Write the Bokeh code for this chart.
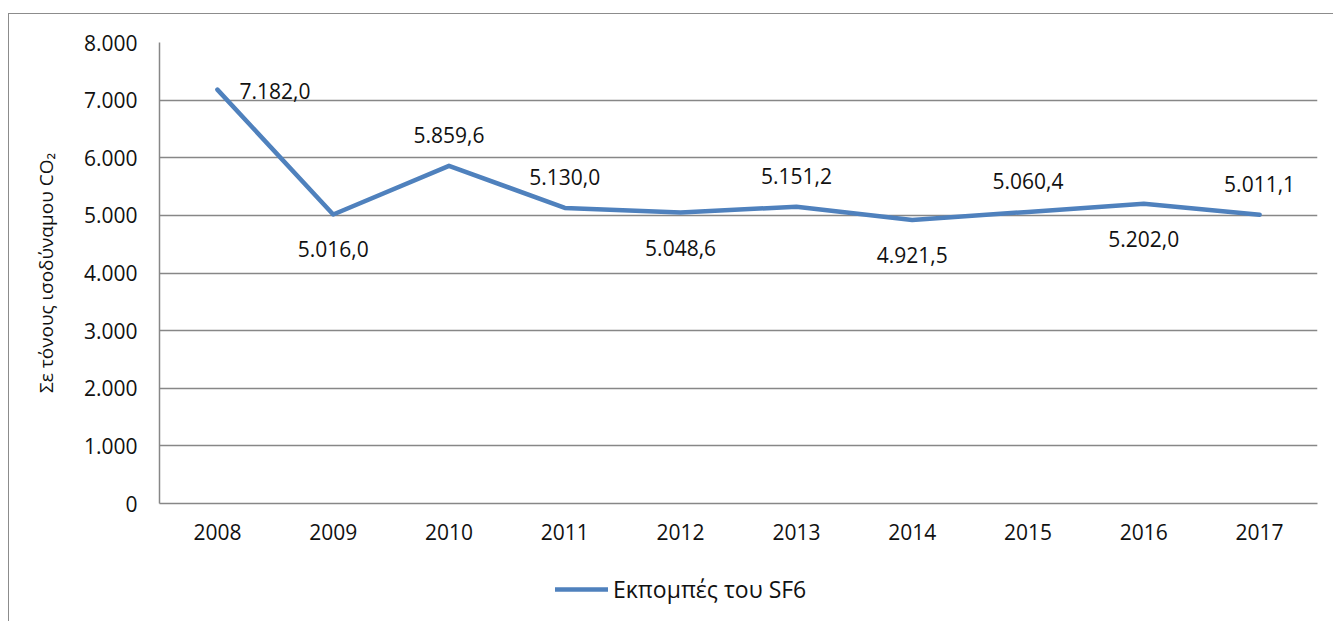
from bokeh.plotting import figure
from bokeh.layouts import column
from bokeh.models import Range1d, FixedTicker, Legend, LegendItem, ColumnDataSource
from bokeh.embed import file_html
from bokeh.resources import INLINE
from bokeh.core.properties import value

years = ["2008", "2009", "2010", "2011", "2012", "2013", "2014", "2015", "2016", "2017"]
sf6 = [7182.0, 5016.0, 5859.6, 5130.0, 5048.6, 5151.2, 4921.5, 5060.4, 5202.0, 5011.1]
data_labels = ["7.182,0", "5.016,0", "5.859,6", "5.130,0", "5.048,6", "5.151,2", "4.921,5", "5.060,4", "5.202,0", "5.011,1"]
y_ticks = [0, 1000, 2000, 3000, 4000, 5000, 6000, 7000, 8000]
y_tick_labels = ["0", "1.000", "2.000", "3.000", "4.000", "5.000", "6.000", "7.000", "8.000"]
series_name = "Εκπομπές του SF6"
y_title = "Σε τόνους ισοδύναμου CO₂"

FONT = "Open Sans"
FS = "21px"
GRID = "#878787"
BLUE = "#4F81BD"
TXT = "#111111"

p = figure(x_range=years, y_range=Range1d(0, 8000),
           frame_width=1158, frame_height=461,
           min_border_left=150, min_border_top=28, min_border_right=16, min_border_bottom=52,
           output_backend="svg", toolbar_location=None)
p.outline_line_color = None
p.background_fill_color = "white"
p.border_fill_color = "white"

# axes
p.yaxis.ticker = FixedTicker(ticks=y_ticks)
p.yaxis.major_label_overrides = dict(zip(y_ticks, y_tick_labels))
for ax in (p.xaxis[0], p.yaxis[0]):
    ax.axis_line_color = GRID
    ax.axis_line_width = 1.5
    ax.major_tick_line_color = None
    ax.minor_tick_line_color = None
    ax.major_tick_out = 0
    ax.major_tick_in = 0
    ax.major_label_text_font = FONT
    ax.major_label_text_font_size = FS
    ax.major_label_text_color = TXT
p.yaxis.major_label_standoff = 22
p.xaxis.major_label_standoff = 20
p.yaxis.axis_label = y_title
p.yaxis.axis_label_text_font = FONT
p.yaxis.axis_label_text_font_size = "19px"
p.yaxis.axis_label_text_font_style = "normal"
p.yaxis.axis_label_text_color = TXT
p.yaxis.axis_label_standoff = 22

p.xgrid.grid_line_color = None
p.ygrid.ticker = FixedTicker(ticks=y_ticks)
p.ygrid.grid_line_color = GRID
p.ygrid.grid_line_width = 1.5

src = ColumnDataSource(dict(x=years, y=sf6, lab=data_labels))
line = p.line("x", "y", source=src, line_color=BLUE, line_width=4.5,
              line_cap="round", line_join="round")

# data labels: placement around each point
placement = ["right", "below", "above", "above", "below", "above", "below", "above", "below", "above"]
for pos in ("right", "below", "above"):
    idx = [i for i, v in enumerate(placement) if v == pos]
    s = ColumnDataSource(dict(x=[years[i] for i in idx], y=[sf6[i] for i in idx],
                              lab=[data_labels[i] for i in idx]))
    if pos == "right":
        kw = dict(x_offset=22, y_offset=1, text_align="left")
    elif pos == "below":
        kw = dict(x_offset=0, y_offset=35, text_align="center")
    else:
        kw = dict(x_offset=0, y_offset=-31, text_align="center")
    p.text("x", "y", text="lab", source=s, text_font=value(FONT), text_font_size=FS,
           text_color=TXT, text_baseline="middle", **kw)

# legend strip below the chart (the proxy line lies outside the strip's view)
lg = figure(x_range=Range1d(0, 1), y_range=Range1d(0, 1),
            frame_width=1324, frame_height=66,
            min_border_left=0, min_border_right=0, min_border_top=0, min_border_bottom=0,
            output_backend="svg", toolbar_location=None)
lg.axis.visible = False
lg.grid.visible = False
lg.outline_line_color = None
lg.border_fill_color = "white"
lg.background_fill_color = "white"
proxy = ColumnDataSource(dict(x=[5, 6], y=[5, 6]))
lg_line = lg.line("x", "y", source=proxy, line_color=BLUE, line_width=4.5, line_cap="round")
legend = Legend(items=[LegendItem(label=series_name, renderers=[lg_line])],
                location=(546, 16), orientation="horizontal",
                label_text_font=FONT, label_text_font_size="23px", label_text_color=TXT,
                glyph_width=53, glyph_height=20, label_standoff=5,
                border_line_color=None, background_fill_alpha=0, margin=0, padding=0)
lg.add_layout(legend, "center")

layout = column(p, lg, spacing=0)
layout.margin = (13, 0, 0, 8)
layout.styles = {"border-left": "1px solid #8c8c8c", "border-top": "1px solid #8c8c8c"}

open("out.html", "w").write(file_html(layout, INLINE))
